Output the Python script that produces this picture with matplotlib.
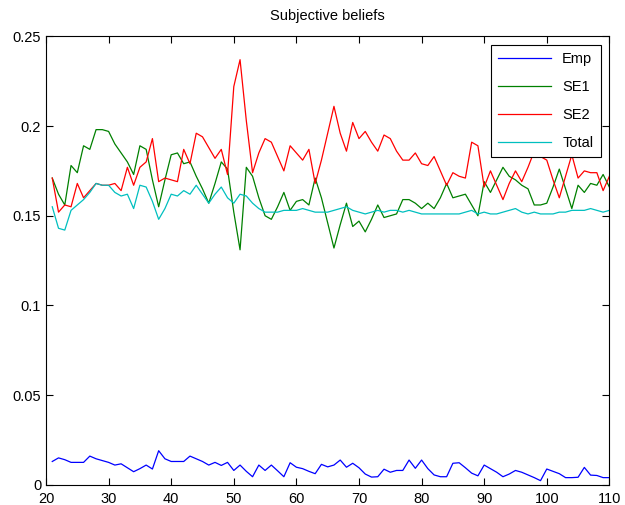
import numpy as np
import matplotlib
matplotlib.use("Agg")
import matplotlib.pyplot as plt

# x positions (iterations)
x = np.arange(21, 111)

emp = [0.013, 0.015, 0.014, 0.0125, 0.0125, 0.0125, 0.016, 0.0145, 0.0135, 0.0125,
       0.011, 0.0117, 0.0095, 0.0073, 0.009, 0.011, 0.0088, 0.019, 0.0145, 0.013,
       0.013, 0.013, 0.016, 0.0145, 0.013, 0.011, 0.0125, 0.0108, 0.0125, 0.008,
       0.011, 0.0075, 0.0045, 0.011, 0.008, 0.011, 0.0078, 0.0045, 0.0123, 0.0098,
       0.009, 0.0075, 0.0062, 0.0114, 0.010, 0.011, 0.0138, 0.0098, 0.012, 0.0095,
       0.006, 0.0043, 0.0045, 0.0087, 0.007, 0.008, 0.008, 0.0138, 0.0092, 0.0138,
       0.009, 0.0055, 0.0045, 0.0045, 0.012, 0.0123, 0.0095, 0.0065, 0.005, 0.011,
       0.009, 0.007, 0.0045, 0.006, 0.008, 0.007, 0.0055, 0.004, 0.0023, 0.0088,
       0.0075, 0.0062, 0.004, 0.004, 0.0042, 0.0097, 0.0054, 0.0052, 0.004, 0.004]

se1 = [0.171, 0.162, 0.156, 0.178, 0.174, 0.189, 0.187, 0.198, 0.198, 0.197,
       0.190, 0.185, 0.180, 0.173, 0.189, 0.187, 0.170, 0.155, 0.170, 0.184,
       0.185, 0.179, 0.180, 0.172, 0.165, 0.157, 0.168, 0.180, 0.176, 0.152,
       0.131, 0.177, 0.172, 0.160, 0.150, 0.148, 0.155, 0.163, 0.153, 0.158,
       0.159, 0.156, 0.171, 0.160, 0.146, 0.132, 0.145, 0.157, 0.144, 0.147,
       0.141, 0.148, 0.156, 0.149, 0.150, 0.151, 0.159, 0.159, 0.157, 0.154,
       0.157, 0.154, 0.160, 0.168, 0.160, 0.161, 0.162, 0.156, 0.150, 0.169,
       0.163, 0.170, 0.177, 0.172, 0.170, 0.167, 0.165, 0.156, 0.156, 0.157,
       0.166, 0.176, 0.165, 0.154, 0.167, 0.163, 0.168, 0.167, 0.173, 0.166]

se2 = [0.171, 0.152, 0.156, 0.155, 0.168, 0.160, 0.164, 0.168, 0.167, 0.167,
       0.168, 0.164, 0.177, 0.167, 0.177, 0.180, 0.193, 0.169, 0.171, 0.170,
       0.169, 0.187, 0.179, 0.196, 0.194, 0.188, 0.182, 0.187, 0.173, 0.222,
       0.237, 0.203, 0.174, 0.185, 0.193, 0.191, 0.183, 0.175, 0.189, 0.185,
       0.181, 0.187, 0.168, 0.181, 0.196, 0.211, 0.196, 0.186, 0.202, 0.193,
       0.197, 0.191, 0.186, 0.195, 0.193, 0.186, 0.181, 0.181, 0.185, 0.179,
       0.178, 0.183, 0.175, 0.167, 0.174, 0.172, 0.171, 0.191, 0.189, 0.166,
       0.175, 0.167, 0.159, 0.168, 0.175, 0.169, 0.177, 0.186, 0.183, 0.181,
       0.170, 0.160, 0.172, 0.184, 0.171, 0.175, 0.174, 0.174, 0.164, 0.172]

total = [0.155, 0.143, 0.142, 0.153, 0.156, 0.159, 0.163, 0.168, 0.167, 0.167,
         0.163, 0.161, 0.162, 0.154, 0.167, 0.166, 0.158, 0.148, 0.154, 0.162,
         0.161, 0.164, 0.162, 0.167, 0.162, 0.157, 0.162, 0.166, 0.160, 0.157,
         0.162, 0.161, 0.157, 0.154, 0.152, 0.152, 0.152, 0.153, 0.153, 0.153,
         0.154, 0.153, 0.152, 0.152, 0.152, 0.153, 0.154, 0.155, 0.153, 0.152,
         0.151, 0.152, 0.153, 0.152, 0.153, 0.153, 0.152, 0.153, 0.152, 0.151,
         0.151, 0.151, 0.151, 0.151, 0.151, 0.151, 0.152, 0.153, 0.151, 0.152,
         0.151, 0.151, 0.152, 0.153, 0.154, 0.152, 0.151, 0.152, 0.151, 0.151,
         0.151, 0.152, 0.152, 0.153, 0.153, 0.153, 0.154, 0.153, 0.152, 0.153]

labels = ["Emp", "SE1", "SE2", "Total"]
colors = ["#0000ff", "#008000", "#ff0000", "#00bfbf"]

plt.rcParams['font.family'] = ['Liberation Sans', 'DejaVu Sans']

fig = plt.figure(figsize=(6.25, 5.05), dpi=100)
ax = fig.add_axes([0.0736, 0.04, 0.9014, 0.888])

for series, name, col in zip([emp, se1, se2, total], labels, colors):
    ax.plot(x, series, color=col, linewidth=0.9, label=name)

ax.set_xlim(20, 110)
ax.set_ylim(0, 0.25)
ax.set_xticks(np.arange(20, 111, 10))
ax.set_yticks([0, 0.05, 0.1, 0.15, 0.2, 0.25])
ax.set_yticklabels(["0", "0.05", "0.1", "0.15", "0.2", "0.25"])
ax.tick_params(direction="in", top=True, right=True, labelsize=10.5, length=5)
ax.tick_params(axis="x", pad=5)
ax.set_title("Subjective beliefs", fontsize=10.5, pad=12)

leg = ax.legend(loc="upper right", fancybox=False, edgecolor="black",
                framealpha=1, fontsize=10.5, borderaxespad=0.6,
                handlelength=3.6, labelspacing=0.95, borderpad=0.5)
leg.get_frame().set_linewidth(0.8)

plt.savefig("out.png", dpi=100)
